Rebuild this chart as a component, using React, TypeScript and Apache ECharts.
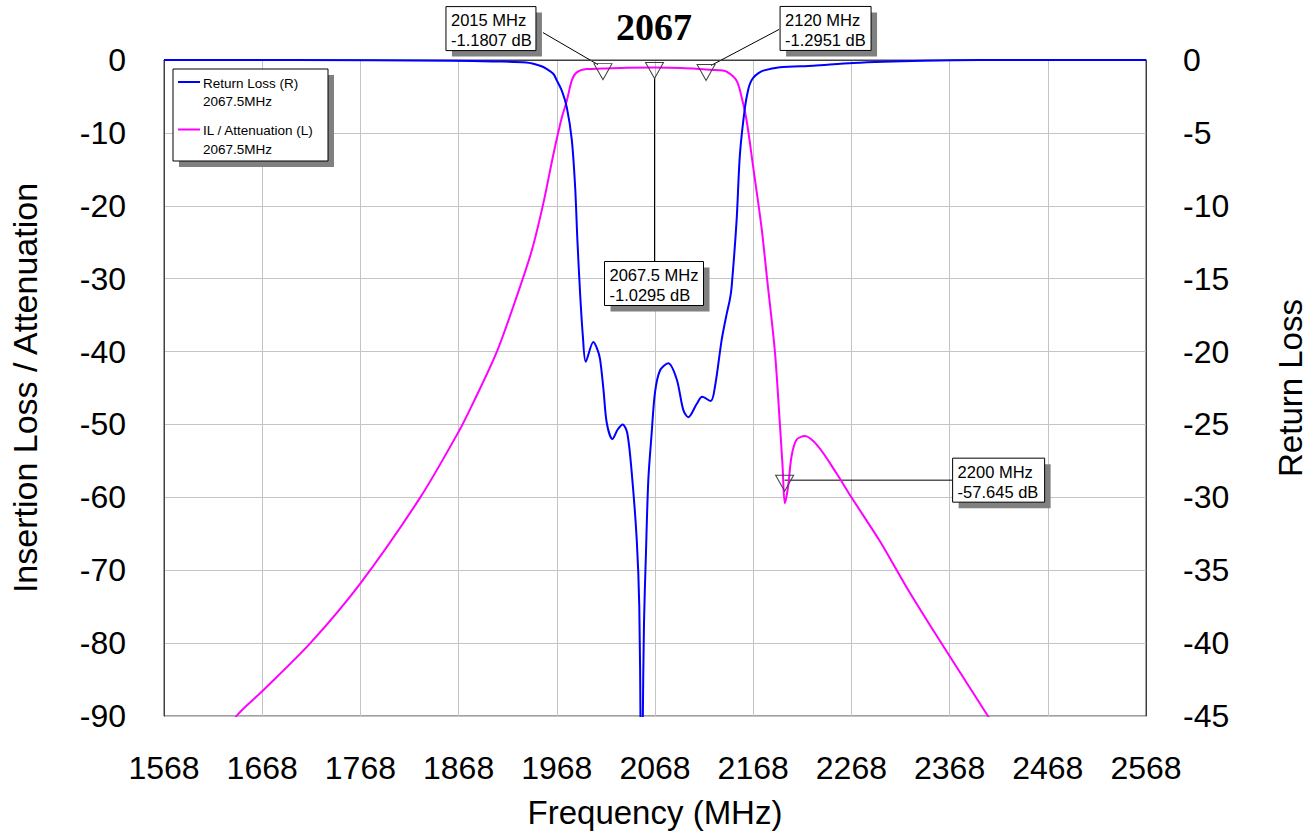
import React, { useEffect, useRef } from 'react';
import * as echarts from 'echarts';

const FONT = "'Liberation Sans', Arial, Helvetica, sans-serif";
const SERIF = "'Liberation Serif', 'Times New Roman', serif";

// Axis ranges / ticks
const xMin = 1568;
const xMax = 2568;
const xStep = 100;
const leftMin = -90;
const leftMax = 0;
const leftStep = 10;
const rightMin = -45;
const rightMax = 0;
const rightStep = 5;

const titleText = '2067';
const xAxisName = 'Frequency (MHz)';
const leftAxisName = 'Insertion Loss / Attenuation';
const rightAxisName = 'Return Loss';

// Return loss (right axis), MHz / dB
const rlFreq = [
  1568, 1700, 1860, 1903, 1937, 1951, 1958, 1964.6, 1968, 1973.1, 1978.2, 1983.3, 1986.7, 1989,
  1991.8, 1994.5, 1997.5, 2005.2, 2009, 2012, 2015.5, 2018.9, 2024.6, 2030, 2035.1, 2039.8,
  2044.3, 2049.4, 2052, 2053.3, 2054.3, 2055.5, 2056.8, 2058.8, 2061.2, 2064.6, 2068, 2073.1,
  2081.5, 2090.1, 2096.8, 2101.9, 2110.4, 2116.1, 2124.7, 2129.1, 2135.9, 2140.9, 2144.3, 2146,
  2151.1, 2154.5, 2159.6, 2163, 2165.5, 2168, 2173, 2178.2, 2195.2, 2229.1, 2269.8, 2341, 2398.7, 2568,
];
const rlValues = [
  0, 0, -0.05, -0.1, -0.17, -0.39, -0.62, -0.96, -1.4, -2.1, -3.25, -5.5, -8.75, -12.4,
  -16.1, -18.9, -20.7, -19.35, -19.8, -20.5, -22.6, -24.9, -26.0, -25.35, -25.0, -25.6,
  -28.3, -32.9, -37.5, -46, -60, -46, -38.6, -33.8, -28.8, -25.6, -22.8, -21.3,
  -20.8, -21.9, -24.0, -24.5, -23.6, -23.1, -23.4, -22.4, -19.2, -17.45, -16.4, -15.6,
  -11.0, -6.46, -3.25, -2.0, -1.5, -1.22, -0.92, -0.73, -0.5, -0.39, -0.2, -0.05, 0, 0,
];

// IL / attenuation (left axis), MHz / dB
const ilFreq = [
  1630, 1641.8, 1668, 1717, 1768, 1829, 1868, 1883.3, 1907, 1927.3, 1942.6, 1954.4, 1964.6,
  1973.1, 1978.2, 1983.3, 1988.4, 1998.5, 2015, 2040, 2067.5, 2095, 2120, 2133, 2140.9, 2151.1,
  2156.2, 2161.3, 2168, 2176.5, 2182.2, 2190.1, 2195.2, 2197.9, 2200.2, 2203.6, 2207, 2212.1,
  2220.6, 2234.1, 2252.8, 2268, 2296.9, 2324, 2351.1, 2380, 2407, 2420,
];
const ilValues = [
  -93, -90, -86.6, -80, -71.8, -60, -51.0, -46.9, -40, -32.4, -26.1, -19.6, -12.9,
  -7.9, -5.6, -2.8, -1.7, -1.25, -1.1807, -1.05, -1.0295, -1.1, -1.2951, -1.4, -1.6, -2.84,
  -5.1, -8.3, -14.7, -23, -30.1, -40, -50, -55.7, -60.8, -58.5, -54.4, -52.1,
  -51.6, -53, -56.7, -60, -66.0, -72.3, -78.2, -84.3, -90, -92.7,
];

// Markers
const markerFreqs = [2015, 2067.5, 2120, 2200];
const markerValues = [-1.1807, -1.0295, -1.2951, -57.645];

// Legend
const legendNames = ['Return Loss (R)', 'IL / Attenuation (L)'];
const legendSub = ['2067.5MHz', '2067.5MHz'];
const BLUE = '#0000ff';
const PINK = '#ff00ff';
const legendColors = [BLUE, PINK];

const GRID = { left: 163, top: 60, right: 170, bottom: 118 };

function buildOption(): echarts.EChartsOption {
  const rlData = rlFreq.map((f, i) => [f, rlValues[i]]);
  const ilData = ilFreq.map((f, i) => [f, ilValues[i]]);
  const axisLabelBase = {
    fontFamily: FONT,
    fontSize: 32,
    color: '#000',
    formatter: (v: number) => String(v),
  };
  return {
    animation: false,
    backgroundColor: '#fff',
    grid: { ...GRID, show: true, borderColor: '#404040', borderWidth: 1, backgroundColor: 'transparent' },
    xAxis: {
      type: 'value',
      min: xMin,
      max: xMax,
      interval: xStep,
      name: xAxisName,
      nameLocation: 'middle',
      nameGap: 80,
      nameTextStyle: { fontFamily: FONT, fontSize: 33, color: '#000' },
      axisLine: { show: true, lineStyle: { color: '#404040', width: 1 } },
      axisTick: { show: false },
      axisLabel: { ...axisLabelBase, margin: 36 },
      splitLine: { show: true, lineStyle: { color: '#c4c4c4', width: 1 } },
    },
    yAxis: [
      {
        type: 'value',
        position: 'left',
        min: leftMin,
        max: leftMax,
        interval: leftStep,
        name: leftAxisName,
        nameLocation: 'middle',
        nameRotate: 90,
        nameGap: 122,
        nameTextStyle: { fontFamily: FONT, fontSize: 34, color: '#000' },
        axisLine: { show: true, lineStyle: { color: '#404040', width: 1 } },
        axisTick: { show: false },
        axisLabel: { ...axisLabelBase, margin: 38 },
        splitLine: { show: true, lineStyle: { color: '#c4c4c4', width: 1 } },
      },
      {
        type: 'value',
        position: 'right',
        min: rightMin,
        max: rightMax,
        interval: rightStep,
        name: rightAxisName,
        nameLocation: 'middle',
        nameRotate: 90,
        nameGap: 128,
        nameTextStyle: { fontFamily: FONT, fontSize: 33, color: '#000' },
        axisLine: { show: true, lineStyle: { color: '#404040', width: 1 } },
        axisTick: { show: false },
        axisLabel: { ...axisLabelBase, margin: 37 },
        splitLine: { show: false },
      },
    ],
    series: [
      {
        name: legendNames[1],
        type: 'line',
        yAxisIndex: 0,
        data: ilData,
        showSymbol: false,
        smooth: 0.3,
        clip: true,
        lineStyle: { color: PINK, width: 2 },
        itemStyle: { color: PINK },
        markPoint: {
          silent: true,
          symbol: 'path://M0,0 L20,0 L10,17 Z',
          symbolSize: [18, 16],
          symbolOffset: [0, 3],
          itemStyle: { color: 'rgba(0,0,0,0)', borderColor: '#404040', borderWidth: 1 },
          label: { show: false },
          data: markerFreqs.map((f, i) => ({ coord: [f, markerValues[i]] })),
        },
      },
      {
        name: legendNames[0],
        type: 'line',
        yAxisIndex: 1,
        data: rlData,
        showSymbol: false,
        smooth: 0.3,
        clip: true,
        lineStyle: { color: BLUE, width: 2 },
        itemStyle: { color: BLUE },
      },
    ],
  };
}

// Annotation box layout relative to the marker's pixel position
const boxLayout = [
  { dx: -157, dy: -62, w: 90, line: [[-60, -36], [-5, -4]] },
  { dx: -50, dy: 194, w: 99, line: [[0, 11], [0, 194]] },
  { dx: 74, dy: -63, w: 91, line: [[73, -40], [5, -4]] },
  { dx: 168, dy: -22, w: 92, line: [[0, 0], [168, 0]] },
];

function buildGraphics(px: number[][]): any[] {
  const g: any[] = [];
  // title
  g.push({
    type: 'text',
    x: 654,
    y: 27,
    style: {
      text: titleText,
      fontFamily: SERIF,
      fontWeight: 'bold',
      fontSize: 38,
      fill: '#000',
      align: 'center',
      verticalAlign: 'middle',
    },
  });
  // legend
  const lx = 173, ly = 69, lw = 155, lh = 92;
  g.push({ type: 'rect', shape: { x: lx + 6, y: ly + 6, width: lw, height: lh }, style: { fill: '#808080' } });
  g.push({ type: 'rect', shape: { x: lx, y: ly, width: lw, height: lh }, style: { fill: '#fff', stroke: '#000', lineWidth: 1 } });
  legendNames.forEach((name, i) => {
    const y0 = ly + 13 + i * 47.5;
    g.push({
      type: 'line',
      shape: { x1: lx + 5, y1: y0, x2: lx + 27, y2: y0 },
      style: { stroke: legendColors[i], lineWidth: 2 },
    });
    g.push({
      type: 'text',
      x: lx + 30,
      y: y0 + 1,
      style: { text: name, fontFamily: FONT, fontSize: 13.5, fill: '#000', align: 'left', verticalAlign: 'middle' },
    });
    g.push({
      type: 'text',
      x: lx + 30,
      y: y0 + 19.5,
      style: { text: legendSub[i], fontFamily: FONT, fontSize: 13.5, fill: '#000', align: 'left', verticalAlign: 'middle' },
    });
  });
  // marker annotations
  markerFreqs.forEach((f, i) => {
    const [mx, my] = px[i];
    const b = boxLayout[i];
    const bx = mx + b.dx, by = my + b.dy, bh = 44;
    g.push({
      type: 'line',
      shape: { x1: mx + b.line[0][0], y1: my + b.line[0][1], x2: mx + b.line[1][0], y2: my + b.line[1][1] },
      style: { stroke: '#000', lineWidth: 1 },
    });
    g.push({ type: 'rect', shape: { x: bx + 6, y: by + 6, width: b.w, height: bh }, style: { fill: '#808080' } });
    g.push({ type: 'rect', shape: { x: bx, y: by, width: b.w, height: bh }, style: { fill: '#fff', stroke: '#000', lineWidth: 1 } });
    g.push({
      type: 'text',
      x: bx + 5,
      y: by + 3.5,
      style: {
        text: `${f} MHz\n${markerValues[i]} dB`,
        fontFamily: FONT,
        fontSize: 16.5,
        lineHeight: 20,
        fill: '#000',
        align: 'left',
        verticalAlign: 'top',
      },
    });
  });
  return g;
}

export default function App() {
  const ref = useRef<HTMLDivElement>(null);
  useEffect(() => {
    if (!ref.current) return;
    const chart = echarts.init(ref.current, null, { renderer: 'svg' });
    chart.setOption(buildOption());
    const px = markerFreqs.map((f, i) =>
      chart.convertToPixel({ xAxisIndex: 0, yAxisIndex: 0 }, [f, markerValues[i]]) as number[]
    );
    chart.setOption({ graphic: buildGraphics(px) });
    return () => chart.dispose();
  }, []);
  return (
    <div
      ref={ref}
      style={{ position: 'fixed', left: 0, top: 0, width: 1316, height: 834, background: '#fff' }}
    />
  );
}
